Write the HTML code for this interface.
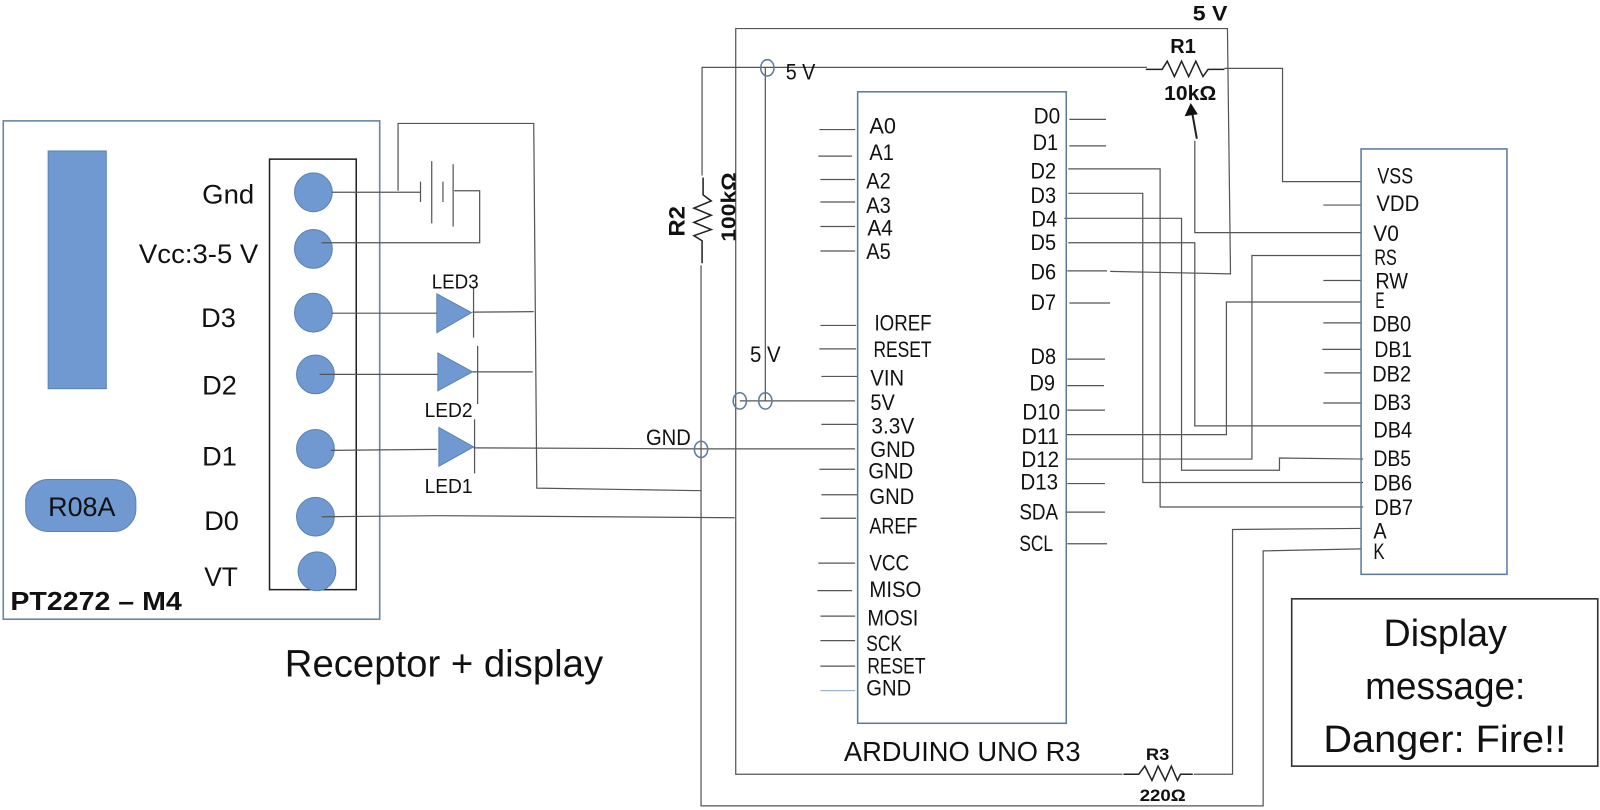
<!DOCTYPE html>
<html><head><meta charset="utf-8"><style>
html,body{margin:0;padding:0;background:#fff}
svg{display:block}
text{font-family:"Liberation Sans",sans-serif;fill:#111;font-size:22px}
.w{fill:none;stroke:#555;stroke-width:1.2}
.k{fill:none;stroke:#222;stroke-width:1.5}
.e{fill:#6f99d0;stroke:#5a82b5;stroke-width:1}
.o{fill:none;stroke:#5b7a9d;stroke-width:1.5}
.b{font-weight:bold}
.l{font-size:26px}
.m{font-size:37px}
.s{font-size:20px}
</style></head><body>
<svg width="1600" height="810" viewBox="0 0 1568 794" xmlns="http://www.w3.org/2000/svg">
<rect x="3" y="118.500" width="369" height="488.500" fill="none" stroke="#6a86a8" stroke-width="1.6"/>
<rect x="47" y="148" width="57" height="233" class="e"/>
<rect x="264" y="156" width="85" height="422" fill="none" stroke="#222" stroke-width="1.5"/>
<ellipse cx="307" cy="188.500" rx="18.500" ry="19" class="e"/>
<ellipse cx="307" cy="244" rx="18.500" ry="19" class="e"/>
<ellipse cx="307" cy="306.500" rx="18.500" ry="19" class="e"/>
<ellipse cx="309" cy="367" rx="18.500" ry="19" class="e"/>
<ellipse cx="309" cy="440" rx="18.500" ry="19" class="e"/>
<ellipse cx="309" cy="506.500" rx="18.500" ry="19" class="e"/>
<ellipse cx="310.500" cy="560" rx="18.500" ry="19" class="e"/>
<rect x="25" y="470" width="108" height="51" rx="22" class="e"/>
<polygon points="428,288 462,306.500 428,326" class="e"/>
<polygon points="429,346 463,364.500 429,383" class="e"/>
<polygon points="430,419 464,438 430,457" class="e"/>

<g class="w">
<path d="M325 188.500H412M315 238H470V187H445"/>
<path d="M412 178V198M423 158V219M434 178V198M444 161V222"/>
<path d="M390 187V121H523L526 478.500L687 481"/>
<path d="M325 307H428M463 306L523 305.500M313 367H429M463 364.500H522M324 441.500L428 440.500M464 439L687 440"/>
<path d="M464 281V331M468 339V396M465 411V464"/>
<path d="M315 506.500L430 505.500L720 507.500"/>
<path d="M721 510V28H1203L1206 268.500L1088 266M1085 265.500H1046"/>
<path d="M721 510V759H1100M1170 759H1208V519L1334 518"/>
<path d="M688 172V66H1124"/>
<path d="M687 260V790H1238V540L1334 538"/>
<path d="M750 66V393M725 393H838M687 440H838"/>
<path d="M1200 67H1257V178H1334"/>
<path d="M1171 138V228H1334"/>
<path d="M1047 165.500H1137V497H1336"/>
<path d="M1047 189.500H1120V473H1336"/>
<path d="M1043 214H1158V461H1254V449L1336 450"/>
<path d="M1047 238H1171V417.500H1334"/>
<path d="M1045 426H1202V296H1334"/>
<path d="M1045 450H1227V250.500H1334"/>
<path d="M803 127H838M802 153H835M804 176H838M804 198H838M804 222H838M804 246H838M804 319H839M803 342H839M805 369H841M805 416H841M803 460H838M805 485H840M804 508H839M802 552H838M801 579H835M804 604H838M804 628H838M804 653H838"/>
<path d="M804 677H838" stroke="#9db4cc"/>
<path d="M1048 117H1084M1048 143H1084M1048 297H1088M1046 352H1083M1046 378H1082M1046 402H1083M1046 474H1083M1044 502H1083M1046 533H1085"/>
<path d="M1297 201H1334M1297 275H1334M1297 316.500H1334M1296 342.500H1334M1298 365.500H1334M1297 395H1334"/>
</g>

<g class="o">
<rect x="840.500" y="90" width="204.500" height="619"/>
<rect x="1334" y="146" width="143" height="417"/>
<ellipse cx="752" cy="66.500" rx="6.500" ry="8"/>
<ellipse cx="725" cy="393" rx="6.500" ry="8"/>
<ellipse cx="750" cy="393" rx="6.500" ry="8"/>
<ellipse cx="687" cy="440.500" rx="6.500" ry="8"/>
</g>

<rect x="1266" y="587" width="300" height="164" fill="none" stroke="#333" stroke-width="1.6"/>

<g class="k">
<path d="M1123 68H1139L1144 60L1151 75L1158 60L1165 75L1172 60L1179 75L1184 68H1200"/>
<path d="M689 174V191L697 197L680 204L697 211L680 218L697 225L680 231L688 236V258"/>
<path d="M1101 759H1116L1122 751L1129 765L1135 751L1142 765L1148 751L1154 765L1157 759H1169"/>
<path d="M1173 136L1168 108" stroke-width="2"/>
</g>
<polygon points="1167,101 1161,114 1174,112" fill="#111"/>

<text class="l" x="198" y="199.500" textLength="51" lengthAdjust="spacingAndGlyphs">Gnd</text>
<text class="l" x="136" y="258" textLength="117" lengthAdjust="spacingAndGlyphs">Vcc:3-5 V</text>
<text class="l" x="197" y="320.500" textLength="34" lengthAdjust="spacingAndGlyphs">D3</text>
<text class="l" x="198" y="386.500" textLength="34" lengthAdjust="spacingAndGlyphs">D2</text>
<text class="l" x="198" y="456.500" textLength="34" lengthAdjust="spacingAndGlyphs">D1</text>
<text class="l" x="200" y="519.500" textLength="34" lengthAdjust="spacingAndGlyphs">D0</text>
<text class="l" x="200" y="574.500" textLength="33" lengthAdjust="spacingAndGlyphs">VT</text>
<text class="l" x="47" y="506" textLength="66" lengthAdjust="spacingAndGlyphs">R08A</text>
<text class="b" style="font-size:25px" x="10" y="598" textLength="168" lengthAdjust="spacingAndGlyphs">PT2272 – M4</text>
<text class="s" x="423" y="283" textLength="46" lengthAdjust="spacingAndGlyphs">LED3</text>
<text class="s" x="416" y="409" textLength="47" lengthAdjust="spacingAndGlyphs">LED2</text>
<text class="s" x="416" y="483.500" textLength="47" lengthAdjust="spacingAndGlyphs">LED1</text>
<text class="m" x="279" y="663" textLength="312" lengthAdjust="spacingAndGlyphs">Receptor + display</text>
<text style="font-size:27px" x="827" y="746" textLength="232" lengthAdjust="spacingAndGlyphs">ARDUINO UNO R3</text>
<text class="m" x="1356" y="633" textLength="121" lengthAdjust="spacingAndGlyphs">Display</text>
<text class="m" x="1338" y="685" textLength="157" lengthAdjust="spacingAndGlyphs">message:</text>
<text class="m" x="1297" y="737" textLength="238" lengthAdjust="spacingAndGlyphs">Danger: Fire!!</text>

<text x="770" y="78" textLength="29" lengthAdjust="spacingAndGlyphs">5 V</text>
<text x="735" y="355" textLength="30" lengthAdjust="spacingAndGlyphs">5 V</text>
<text x="633" y="436" textLength="44" lengthAdjust="spacingAndGlyphs">GND</text>
<text x="852" y="131" textLength="26" lengthAdjust="spacingAndGlyphs">A0</text>
<text x="852" y="157" textLength="24" lengthAdjust="spacingAndGlyphs">A1</text>
<text x="849" y="185" textLength="24" lengthAdjust="spacingAndGlyphs">A2</text>
<text x="849" y="209" textLength="24" lengthAdjust="spacingAndGlyphs">A3</text>
<text x="850" y="231" textLength="25" lengthAdjust="spacingAndGlyphs">A4</text>
<text x="849" y="254" textLength="24" lengthAdjust="spacingAndGlyphs">A5</text>
<text x="857" y="324" textLength="56" lengthAdjust="spacingAndGlyphs">IOREF</text>
<text x="856" y="350" textLength="57" lengthAdjust="spacingAndGlyphs">RESET</text>
<text x="853" y="378" textLength="33" lengthAdjust="spacingAndGlyphs">VIN</text>
<text x="853" y="402" textLength="24" lengthAdjust="spacingAndGlyphs">5V</text>
<text x="854" y="425" textLength="42" lengthAdjust="spacingAndGlyphs">3.3V</text>
<text x="853" y="448" textLength="44" lengthAdjust="spacingAndGlyphs">GND</text>
<text x="851" y="469" textLength="44" lengthAdjust="spacingAndGlyphs">GND</text>
<text x="852" y="494" textLength="44" lengthAdjust="spacingAndGlyphs">GND</text>
<text x="852" y="523" textLength="47" lengthAdjust="spacingAndGlyphs">AREF</text>
<text x="852" y="559" textLength="39" lengthAdjust="spacingAndGlyphs">VCC</text>
<text x="852" y="585" textLength="51" lengthAdjust="spacingAndGlyphs">MISO</text>
<text x="850" y="613" textLength="50" lengthAdjust="spacingAndGlyphs">MOSI</text>
<text x="849" y="638" textLength="35" lengthAdjust="spacingAndGlyphs">SCK</text>
<text x="850" y="660" textLength="57" lengthAdjust="spacingAndGlyphs">RESET</text>
<text x="849" y="682" textLength="44" lengthAdjust="spacingAndGlyphs">GND</text>

<text x="1013" y="121" textLength="26" lengthAdjust="spacingAndGlyphs">D0</text>
<text x="1012" y="147" textLength="25" lengthAdjust="spacingAndGlyphs">D1</text>
<text x="1010" y="175" textLength="25" lengthAdjust="spacingAndGlyphs">D2</text>
<text x="1010" y="199" textLength="25" lengthAdjust="spacingAndGlyphs">D3</text>
<text x="1011" y="222" textLength="25" lengthAdjust="spacingAndGlyphs">D4</text>
<text x="1010" y="245" textLength="25" lengthAdjust="spacingAndGlyphs">D5</text>
<text x="1010" y="274" textLength="25" lengthAdjust="spacingAndGlyphs">D6</text>
<text x="1010" y="304" textLength="25" lengthAdjust="spacingAndGlyphs">D7</text>
<text x="1010" y="357" textLength="25" lengthAdjust="spacingAndGlyphs">D8</text>
<text x="1009" y="383" textLength="25" lengthAdjust="spacingAndGlyphs">D9</text>
<text x="1002" y="411" textLength="37" lengthAdjust="spacingAndGlyphs">D10</text>
<text x="1001" y="435" textLength="37" lengthAdjust="spacingAndGlyphs">D11</text>
<text x="1001" y="458" textLength="37" lengthAdjust="spacingAndGlyphs">D12</text>
<text x="1000" y="480" textLength="37" lengthAdjust="spacingAndGlyphs">D13</text>
<text x="999" y="509" textLength="38" lengthAdjust="spacingAndGlyphs">SDA</text>
<text x="999" y="540" textLength="33" lengthAdjust="spacingAndGlyphs">SCL</text>

<text x="1350" y="180" textLength="35" lengthAdjust="spacingAndGlyphs">VSS</text>
<text x="1349" y="207" textLength="42" lengthAdjust="spacingAndGlyphs">VDD</text>
<text x="1346" y="236" textLength="25" lengthAdjust="spacingAndGlyphs">V0</text>
<text x="1347" y="260" textLength="22" lengthAdjust="spacingAndGlyphs">RS</text>
<text x="1348" y="283" textLength="32" lengthAdjust="spacingAndGlyphs">RW</text>
<text x="1348" y="302" textLength="9" lengthAdjust="spacingAndGlyphs">E</text>
<text x="1345" y="325" textLength="38" lengthAdjust="spacingAndGlyphs">DB0</text>
<text x="1347" y="350" textLength="37" lengthAdjust="spacingAndGlyphs">DB1</text>
<text x="1345" y="374" textLength="38" lengthAdjust="spacingAndGlyphs">DB2</text>
<text x="1346" y="402" textLength="37" lengthAdjust="spacingAndGlyphs">DB3</text>
<text x="1346" y="429" textLength="38" lengthAdjust="spacingAndGlyphs">DB4</text>
<text x="1346" y="457" textLength="37" lengthAdjust="spacingAndGlyphs">DB5</text>
<text x="1346" y="481" textLength="38" lengthAdjust="spacingAndGlyphs">DB6</text>
<text x="1347" y="505" textLength="38" lengthAdjust="spacingAndGlyphs">DB7</text>
<text x="1346" y="528" textLength="13" lengthAdjust="spacingAndGlyphs">A</text>
<text x="1346" y="548" textLength="11" lengthAdjust="spacingAndGlyphs">K</text>

<text class="b" style="font-size:21px" x="1169" y="20" textLength="34" lengthAdjust="spacingAndGlyphs">5 V</text>
<text class="b" style="font-size:20px" x="1147" y="52" textLength="25" lengthAdjust="spacingAndGlyphs">R1</text>
<text class="b" style="font-size:20px" x="1141" y="98" textLength="51" lengthAdjust="spacingAndGlyphs">10kΩ</text>
<text class="b" style="font-size:16px" x="1123" y="745" textLength="23" lengthAdjust="spacingAndGlyphs">R3</text>
<text class="b" style="font-size:16px" x="1117" y="785" textLength="45" lengthAdjust="spacingAndGlyphs">220Ω</text>
<text class="b" style="font-size:22px" transform="translate(671,232) rotate(-90)" textLength="30" lengthAdjust="spacingAndGlyphs">R2</text>
<text class="b" style="font-size:20px" transform="translate(721,237) rotate(-90)" textLength="68" lengthAdjust="spacingAndGlyphs">100kΩ</text>
</svg>
</body></html>
